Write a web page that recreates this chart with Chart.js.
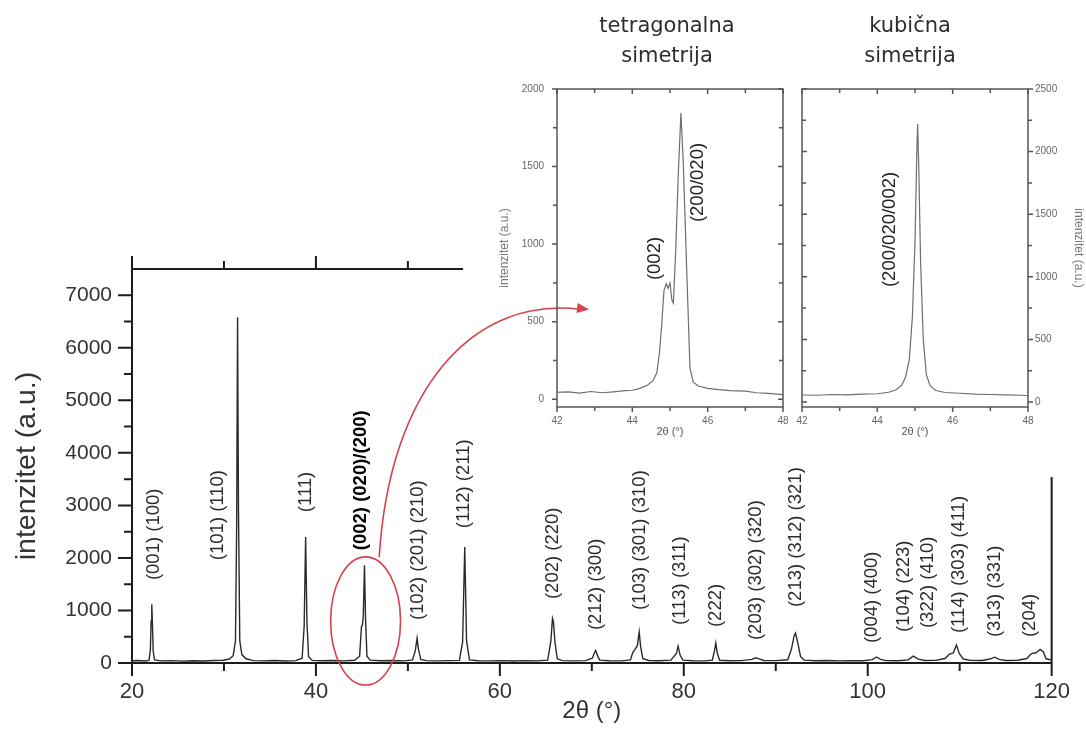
<!DOCTYPE html>
<html>
<head>
<meta charset="utf-8">
<script src="https://cdn.jsdelivr.net/npm/chart.js@4.4.1/dist/chart.umd.min.js"></script>
<style>
  html, body { margin: 0; padding: 0; background: #ffffff; }
  #wrap { position: relative; width: 1086px; height: 736px; overflow: hidden; background: #ffffff; }
  #wrap canvas { position: absolute; left: 0; top: 0; }
</style>
</head>
<body>
<div id="wrap">
  <canvas id="pattern" width="1086" height="736"></canvas>
  <canvas id="tetragonal" width="1086" height="736"></canvas>
  <canvas id="cubic" width="1086" height="736"></canvas>
</div>
<script>
// ---- Full diffraction pattern, 2θ = 20°…120° ----
const scanAngle = [
  20.0, 20.7, 21.4, 21.85, 22.0, 22.08, 22.15, 22.22, 22.3, 22.45, 23.2, 24.3, 25.5, 26.6, 27.8, 28.9,
  29.9, 30.6, 31.0, 31.25, 31.38, 31.48, 31.58, 31.72, 31.95, 32.4, 33.2, 34.3, 35.5, 36.7, 37.8,
  38.5, 38.72, 38.88, 39.02, 39.2, 39.6, 40.6, 41.8, 43.0, 44.2, 44.75, 44.95, 45.05, 45.15, 45.28,
  45.4, 45.55, 45.9, 47.0, 48.3, 49.6, 50.5, 50.8, 51.0, 51.15, 51.4, 52.0, 53.2, 54.5, 55.6, 55.95,
  56.18, 56.38, 56.7, 57.6, 58.9, 60.2, 61.5, 62.8, 64.0, 65.2, 65.55, 65.72, 65.82, 66.0, 66.25,
  66.8, 68.0, 69.3, 70.05, 70.3, 70.42, 70.6, 70.85, 71.9, 73.2, 74.2, 74.45, 74.7, 74.95, 75.15,
  75.3, 75.55, 76.2, 77.3, 78.6, 78.95, 79.2, 79.38, 79.6, 79.9, 81.0, 82.3, 83.1, 83.35, 83.48,
  83.65, 83.9, 85.0, 86.3, 87.4, 87.8, 88.2, 88.7, 90.0, 91.3, 91.7, 92.0, 92.15, 92.4, 92.7, 93.1,
  94.3, 95.6, 96.9, 98.2, 99.5, 100.5, 100.95, 101.4, 102.0, 103.3, 104.4, 104.95, 105.5, 106.2,
  107.4, 108.4, 108.9, 109.3, 109.65, 109.95, 110.4, 111.2, 112.4, 113.3, 113.8, 114.3, 115.0,
  116.3, 117.3, 117.8, 118.3, 118.75, 119.1, 119.4, 120.0
];
const scanCounts = [
  42, 48, 38, 50, 260, 800, 1120, 760, 230, 60, 40, 46, 36, 44, 38, 48,
  52, 75, 140, 420, 2600, 6580, 2900, 420, 160, 80, 45, 40, 47, 38, 45,
  90, 700, 2400, 800, 120, 50, 42, 47, 40, 52, 130, 690, 720, 900, 1860,
  800, 130, 55, 42, 47, 40, 60, 230, 470, 260, 70, 45, 40, 46, 50, 400,
  2210, 420, 60, 44, 40, 46, 38, 45, 40, 55, 420, 850, 790, 380, 80,
  45, 40, 46, 90, 200, 240, 150, 55, 44, 40, 58, 200, 260, 330, 590,
  320, 80, 48, 42, 55, 130, 180, 320, 150, 55, 44, 40, 55, 240, 380,
  180, 52, 42, 46, 70, 100, 80, 48, 45, 62, 260, 520, 570, 380, 120, 55,
  44, 48, 40, 46, 42, 65, 115, 70, 46, 42, 60, 130, 75, 48,
  50, 85, 170, 190, 340, 180, 75, 50, 47, 75, 110, 70, 48,
  52, 85, 180, 195, 260, 210, 80, 55
];

// Axis ticks of the full pattern
const angleLabelTicks = [20, 40, 60, 80, 100, 120];
const angleMinorTicks = [30, 50, 70, 90, 110];
const countLabelTicks = [0, 1000, 2000, 3000, 4000, 5000, 6000, 7000];
const countMinorTicks = [500, 1500, 2500, 3500, 4500, 5500, 6500];
const upperAxisTicks = [20, 30, 40, 50];

// Miller indices written over the reflections
const noteText = [
  '(001) (100)', '(101) (110)', '(111)', '(002) (020)/(200)', '(102) (201) (210)', '(112) (211)',
  '(202) (220)', '(212) (300)', '(103) (301) (310)', '(113) (311)', '(222)', '(203) (302) (320)',
  '(213) (312) (321)', '(004) (400)', '(104) (223)', '(322) (410)', '(114) (303) (411)',
  '(313) (331)', '(204)'
];
const noteAngle = [22.37, 29.35, 38.9, 44.84, 51.08, 56.13, 65.8, 70.43, 75.27, 79.57, 83.44, 87.85,
  92.15, 100.43, 103.98, 106.56, 109.9, 113.87, 117.63];
const noteLevel = [1578, 1958, 2871, 2148, 817, 2567, 1217, 627, 1008, 722, 684, 437,
  1065, 380, 589, 665, 570, 494, 494];
const emphasisedNote = '(002) (020)/(200)';

// ---- Detail around 45°: tetragonal splitting ----
const tetAngle = [42.0, 42.3, 42.6, 42.9, 43.2, 43.5, 43.8, 44.0, 44.2, 44.4, 44.55, 44.65, 44.72,
  44.78, 44.84, 44.9, 44.95, 45.0, 45.05, 45.09, 45.15, 45.22, 45.29, 45.35, 45.44, 45.53, 45.62,
  45.75, 46.0, 46.3, 46.6, 47.0, 47.3, 47.6, 48.0];
const tetCounts = [45, 48, 40, 50, 42, 48, 55, 58, 70, 90, 120, 170, 300,
  480, 700, 745, 715, 750, 640, 620, 950, 1450, 1845, 1540, 860, 200, 110,
  85, 70, 62, 56, 52, 42, 38, 30];

// ---- Detail around 45°: single cubic reflection ----
const cubAngle = [42.0, 42.4, 42.8, 43.2, 43.6, 44.0, 44.3, 44.5, 44.65, 44.75, 44.85, 44.93, 45.0,
  45.05, 45.07, 45.1, 45.15, 45.22, 45.3, 45.4, 45.55, 45.8, 46.2, 46.6, 47.0, 47.4, 47.8, 48.0];
const cubCounts = [56, 54, 60, 57, 63, 66, 78, 98, 135, 200, 340, 680, 1280,
  2020, 2220, 1880, 1100, 500, 220, 130, 92, 76, 70, 63, 60, 57, 54, 50];

const insetAngleTicks = [42, 44, 46, 48];
const insetAngleMinor = [43, 45, 47];
const tetCountTicks = [0, 500, 1000, 1500, 2000];
const tetCountMinor = [250, 750, 1250, 1750];
const cubCountTicks = [0, 500, 1000, 1500, 2000, 2500];
const cubCountMinor = [250, 750, 1250, 1750, 2250];

const tetNoteText = ['(002)', '(200/020)'];
const tetNoteAngle = [44.6, 45.74];
const tetNoteLevel = [768, 1142];
const cubNoteText = ['(200/020/002)'];
const cubNoteAngle = [44.34];
const cubNoteLevel = [918];

// ---------------------------------------------------------------
const SANS = '"Liberation Sans", Arial, Helvetica, sans-serif';
const toPoints = (xs, ys) => xs.map((v, i) => ({ x: v, y: ys[i] }));
const fixedTicks = list => scale => { scale.ticks = list.map(v => ({ value: v })); };
const plainNumber = v => String(v);

// Rotated hkl labels, anchored at their lower end
const peakNotes = {
  id: 'peakNotes',
  afterDatasetsDraw(chart, args, o) {
    const { ctx, scales: { x, y } } = chart;
    ctx.save();
    o.text.forEach((t, i) => {
      const strong = t === o.emphasis;
      ctx.save();
      ctx.translate(x.getPixelForValue(o.at[i]), y.getPixelForValue(o.level[i]));
      ctx.rotate(-Math.PI / 2);
      ctx.font = (strong ? 'bold ' : '') + o.size + 'px ' + SANS;
      ctx.fillStyle = strong ? '#000000' : o.color;
      ctx.textAlign = 'left';
      ctx.textBaseline = 'middle';
      ctx.fillText(t, 0, 0);
      ctx.restore();
    });
    ctx.restore();
  }
};

// Broken frame of the full pattern with its tick marks
const patternFrame = {
  id: 'patternFrame',
  afterDatasetsDraw(chart, args, o) {
    const { ctx, chartArea: a, scales: { x, y } } = chart;
    ctx.save();
    ctx.strokeStyle = '#1c1c1c';
    ctx.lineWidth = 2;
    ctx.beginPath();
    ctx.moveTo(a.left, a.top - 13); ctx.lineTo(a.left, a.bottom + 1);
    ctx.moveTo(a.left - 1, a.bottom); ctx.lineTo(a.right + 1, a.bottom);
    ctx.moveTo(a.left, a.top); ctx.lineTo(x.getPixelForValue(o.upperEnd), a.top);
    ctx.moveTo(a.right, y.getPixelForValue(o.rightStart)); ctx.lineTo(a.right, a.bottom);
    angleLabelTicks.forEach(v => { const p = x.getPixelForValue(v); ctx.moveTo(p, a.bottom); ctx.lineTo(p, a.bottom + 13); });
    angleMinorTicks.forEach(v => { const p = x.getPixelForValue(v); ctx.moveTo(p, a.bottom); ctx.lineTo(p, a.bottom + 8); });
    upperAxisTicks.forEach(v => {
      const p = x.getPixelForValue(v);
      ctx.moveTo(p, a.top); ctx.lineTo(p, a.top - (v % 20 === 0 ? 13 : 8));
    });
    countLabelTicks.forEach(v => { const p = y.getPixelForValue(v); ctx.moveTo(a.left, p); ctx.lineTo(a.left - 14, p); });
    countMinorTicks.forEach(v => { const p = y.getPixelForValue(v); ctx.moveTo(a.left, p); ctx.lineTo(a.left - 8, p); });
    ctx.stroke();
    ctx.restore();
  }
};

// Ellipse round the 45° reflection and the arrow leading to the detail
const zoomMarker = {
  id: 'zoomMarker',
  afterDatasetsDraw(chart, args, o) {
    const { ctx, scales: { x, y } } = chart;
    const cx = x.getPixelForValue(o.centre[0]);
    const cy = y.getPixelForValue(o.centre[1]);
    const rx = Math.abs(x.getPixelForValue(o.centre[0] + o.radius[0]) - cx);
    const ry = Math.abs(y.getPixelForValue(o.centre[1] + o.radius[1]) - cy);
    const P = o.path.map(p => [x.getPixelForValue(p[0]), y.getPixelForValue(p[1])]);
    ctx.save();
    ctx.strokeStyle = '#d6424b';
    ctx.lineWidth = 1.6;
    ctx.beginPath();
    ctx.ellipse(cx, cy, rx, ry, 0, 0, Math.PI * 2);
    ctx.stroke();
    ctx.beginPath();
    ctx.moveTo(P[0][0], P[0][1]);
    ctx.bezierCurveTo(P[1][0], P[1][1], P[2][0], P[2][1], P[3][0] - 8, P[3][1]);
    ctx.stroke();
    const ang = Math.atan2(P[3][1] - P[2][1], P[3][0] - P[2][0]);
    ctx.fillStyle = '#d6424b';
    ctx.beginPath();
    ctx.moveTo(P[3][0], P[3][1]);
    ctx.lineTo(P[3][0] - 12 * Math.cos(ang) + 5 * Math.sin(ang), P[3][1] - 12 * Math.sin(ang) - 5 * Math.cos(ang));
    ctx.lineTo(P[3][0] - 12 * Math.cos(ang) - 5 * Math.sin(ang), P[3][1] - 12 * Math.sin(ang) + 5 * Math.cos(ang));
    ctx.closePath();
    ctx.fill();
    ctx.restore();
  }
};

// Closed box of a detail plot: outward ticks on labelled sides, inward on the others
const insetFrame = {
  id: 'insetFrame',
  afterDatasetsDraw(chart, args, o) {
    const { ctx, chartArea: a, scales: { x, y } } = chart;
    ctx.save();
    ctx.strokeStyle = '#555555';
    ctx.lineWidth = 1.5;
    ctx.strokeRect(a.left, a.top, a.width, a.height);
    ctx.beginPath();
    const xt = (list, len) => list.forEach(v => {
      const p = x.getPixelForValue(v);
      ctx.moveTo(p, a.bottom); ctx.lineTo(p, a.bottom + len);
      ctx.moveTo(p, a.top); ctx.lineTo(p, a.top + len);
    });
    xt(insetAngleTicks, 5); xt(insetAngleMinor, 4);
    const outX = o.side === 'left' ? a.left : a.right;
    const inX = o.side === 'left' ? a.right : a.left;
    const dir = o.side === 'left' ? -1 : 1;
    const yt = (list, len) => list.forEach(v => {
      const p = y.getPixelForValue(v);
      ctx.moveTo(outX, p); ctx.lineTo(outX + dir * len, p);
      ctx.moveTo(inX, p); ctx.lineTo(inX + dir * len, p);
    });
    yt(o.major, 5); yt(o.minor, 4);
    ctx.stroke();
    ctx.restore();
  }
};

// Two-line heading above a detail plot
const insetHeading = {
  id: 'insetHeading',
  afterDraw(chart, args, o) {
    const { ctx, chartArea: a } = chart;
    ctx.save();
    ctx.font = '21px "DejaVu Sans", Verdana, sans-serif';
    ctx.fillStyle = '#2e2e2e';
    ctx.textAlign = 'center';
    ctx.textBaseline = 'middle';
    const cx = o.centre != null ? o.centre : (a.left + a.right) / 2;
    o.lines.forEach((t, i) => ctx.fillText(t, cx, a.top - 62 + i * 30));
    ctx.restore();
  }
};

// ---- Full pattern ----
new Chart(document.getElementById('pattern'), {
  type: 'line',
  data: {
    datasets: [{
      data: toPoints(scanAngle, scanCounts),
      borderColor: '#2a2a2a',
      borderWidth: 1.4,
      pointRadius: 0,
      tension: 0,
      fill: false
    }]
  },
  options: {
    responsive: false,
    animation: false,
    devicePixelRatio: 1,
    layout: { padding: { left: 0, top: 269, right: 24, bottom: 0 } },
    plugins: {
      legend: { display: false },
      tooltip: { enabled: false },
      patternFrame: { upperEnd: 56, rightStart: 3540 },
      zoomMarker: {
        centre: [45.4, 800],
        radius: [3.8, 1220],
        path: [[46.88, 2015], [48.0, 5200], [57.0, 7000], [69.7, 6730]]
      },
      peakNotes: { text: noteText, at: noteAngle, level: noteLevel, emphasis: emphasisedNote, size: 18.5, color: '#2b2b2b' }
    },
    scales: {
      x: {
        type: 'linear', min: 20, max: 120,
        afterBuildTicks: fixedTicks(angleLabelTicks),
        afterFit: s => { s.height = 73; },
        grid: { display: false, drawTicks: false },
        border: { display: false },
        ticks: { font: { family: SANS, size: 22 }, color: '#333333', padding: 16, maxRotation: 0, autoSkip: false, callback: plainNumber },
        title: { display: true, text: '2θ (°)', font: { family: SANS, size: 24 }, color: '#333333', padding: { top: 0, bottom: 10 } }
      },
      y: {
        type: 'linear', min: 0, max: 7500,
        afterBuildTicks: fixedTicks(countLabelTicks),
        afterFit: s => { s.width = 132; },
        grid: { display: false, drawTicks: false },
        border: { display: false },
        ticks: { font: { family: SANS, size: 21 }, color: '#333333', padding: 20, autoSkip: false, callback: plainNumber },
        title: { display: true, text: 'intenzitet (a.u.)', font: { family: SANS, size: 28.5 }, color: '#333333', padding: { top: 10, bottom: 0 } }
      }
    }
  },
  plugins: [patternFrame, peakNotes, zoomMarker]
});

// ---- Detail plots ----
function detailChart(id, xs, ys, cfg) {
  const left = cfg.side === 'left';
  return new Chart(document.getElementById(id), {
    type: 'line',
    data: {
      datasets: [{
        data: toPoints(xs, ys),
        borderColor: '#6e6e6e',
        borderWidth: 1.2,
        pointRadius: 0,
        tension: 0,
        fill: false
      }]
    },
    options: {
      responsive: false,
      animation: false,
      devicePixelRatio: 1,
      layout: { padding: cfg.padding },
      plugins: {
        legend: { display: false },
        tooltip: { enabled: false },
        insetFrame: { side: cfg.side, major: cfg.major, minor: cfg.minor },
        insetHeading: { lines: cfg.heading, centre: cfg.headingCentre },
        peakNotes: { text: cfg.notes[0], at: cfg.notes[1], level: cfg.notes[2], emphasis: null, size: 18.5, color: '#222222' }
      },
      scales: {
        x: {
          type: 'linear', min: 42, max: 48,
          afterBuildTicks: fixedTicks(insetAngleTicks),
          afterFit: s => { s.height = 32; },
          grid: { display: false, drawTicks: false },
          border: { display: false },
          ticks: { font: { family: SANS, size: 10 }, color: '#666666', padding: 8, maxRotation: 0, autoSkip: false, callback: plainNumber },
          title: { display: true, text: '2θ (°)', font: { family: SANS, size: 11 }, color: '#555555', padding: { top: 0, bottom: 0 } }
        },
        y: {
          type: 'linear', position: cfg.side, min: cfg.min, max: cfg.max,
          afterBuildTicks: fixedTicks(cfg.major),
          afterFit: s => { s.width = cfg.axisWidth; },
          grid: { display: false, drawTicks: false },
          border: { display: false },
          ticks: { font: { family: SANS, size: 10 }, color: '#666666', padding: left ? 13 : 7, autoSkip: false, callback: plainNumber },
          title: { display: true, text: 'intenzitet (a.u.)', font: { family: SANS, size: 12 }, color: '#777777', padding: { top: 0, bottom: 0 } }
        }
      }
    },
    plugins: [insetFrame, insetHeading, peakNotes]
  });
}

detailChart('tetragonal', tetAngle, tetCounts, {
  side: 'left', min: -50, max: 2000, major: tetCountTicks, minor: tetCountMinor,
  axisWidth: 60, padding: { left: 497, right: 303, top: 89, bottom: 297 },
  heading: ['tetragonalna', 'simetrija'], headingCentre: 667,
  notes: [tetNoteText, tetNoteAngle, tetNoteLevel]
});

detailChart('cubic', cubAngle, cubCounts, {
  side: 'right', min: -40, max: 2500, major: cubCountTicks, minor: cubCountMinor,
  axisWidth: 58, padding: { left: 802, right: 0, top: 89, bottom: 297 },
  heading: ['kubična', 'simetrija'], headingCentre: 910,
  notes: [cubNoteText, cubNoteAngle, cubNoteLevel]
});
</script>
</body>
</html>
